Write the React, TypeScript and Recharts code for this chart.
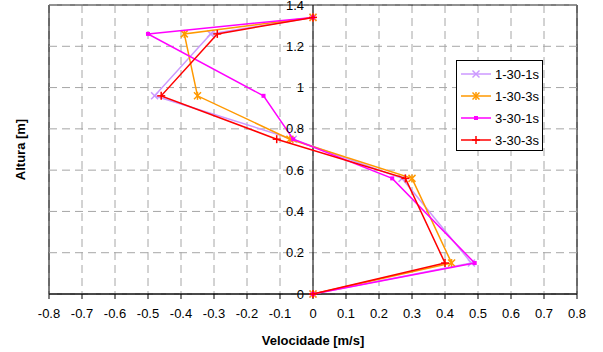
import React from 'react'
import {
  ScatterChart,
  Scatter,
  XAxis,
  YAxis,
  CartesianGrid,
  ReferenceLine,
  ReferenceArea,
  ReferenceDot,
  Legend
} from 'recharts'

// alturas [m] dos pontos medidos
const alturas = [0, 0.15, 0.56, 0.75, 0.96, 1.26, 1.34]

// velocidades [m/s] por ensaio
const vel_1_30_1s = [0, 0.48, 0.27, -0.06, -0.48, -0.31, 0]
const vel_1_30_3s = [0, 0.42, 0.3, -0.07, -0.35, -0.39, 0]
const vel_3_30_1s = [0, 0.49, 0.24, -0.06, -0.15, -0.5, 0]
const vel_3_30_3s = [0, 0.4, 0.28, -0.11, -0.46, -0.29, 0]

const xTicks = [-0.8, -0.7, -0.6, -0.5, -0.4, -0.3, -0.2, -0.1, 0, 0.1, 0.2, 0.3, 0.4, 0.5, 0.6, 0.7, 0.8]
const yTicks = [0, 0.2, 0.4, 0.6, 0.8, 1, 1.2, 1.4]

type MarkerKind = 'x' | 'star' | 'square' | 'plus'

const series: { name: string; vel: number[]; color: string; marker: MarkerKind }[] = [
  { name: '1-30-1s', vel: vel_1_30_1s, color: '#CC99FF', marker: 'x' },
  { name: '1-30-3s', vel: vel_1_30_3s, color: '#FF9900', marker: 'star' },
  { name: '3-30-1s', vel: vel_3_30_1s, color: '#FF00FF', marker: 'square' },
  { name: '3-30-3s', vel: vel_3_30_3s, color: '#FF0000', marker: 'plus' }
]

const gridColor = '#a6a6a6'
const gridDash = '8 5'

const Marker = ({ cx, cy, kind, color }: { cx: number; cy: number; kind: MarkerKind; color: string }) => {
  const s = 3.5
  if (kind === 'square') {
    return <rect x={cx - 2} y={cy - 2} width={4} height={4} fill={color} />
  }
  const parts: React.ReactNode[] = []
  if (kind === 'x' || kind === 'star') {
    parts.push(<line key="a" x1={cx - s} y1={cy - s} x2={cx + s} y2={cy + s} />)
    parts.push(<line key="b" x1={cx - s} y1={cy + s} x2={cx + s} y2={cy - s} />)
  }
  if (kind === 'star' || kind === 'plus') {
    parts.push(<line key="c" x1={cx} y1={cy - s - 0.5} x2={cx} y2={cy + s + 0.5} />)
  }
  if (kind === 'plus') {
    parts.push(<line key="d" x1={cx - s - 0.5} y1={cy} x2={cx + s + 0.5} y2={cy} />)
  }
  return (
    <g stroke={color} strokeWidth={1.5}>
      {parts}
    </g>
  )
}

const LegendBox = () => (
  <div style={{ padding: '2px 0 0 4px', fontSize: 13, color: '#000' }}>
    {series.map((s) => (
      <div key={s.name} style={{ height: 22, display: 'flex', alignItems: 'center' }}>
        <svg width={30} height={10} style={{ marginRight: 4 }}>
          <line x1={0} y1={5} x2={30} y2={5} stroke={s.color} strokeWidth={1.5} />
          <Marker cx={15} cy={5} kind={s.marker} color={s.color} />
        </svg>
        <span>{s.name}</span>
      </div>
    ))}
  </div>
)

const App = () => {
  return (
    <div style={{ position: 'absolute', left: 0, top: 0, fontFamily: '"Liberation Sans", Arial, sans-serif' }}>
      <ScatterChart width={603} height={352} margin={{ top: 5, right: 26, left: 0, bottom: 0 }}>
        <CartesianGrid stroke={gridColor} strokeDasharray={gridDash} horizontal={false} />
        <XAxis
          type="number"
          dataKey="v"
          domain={[-0.8, 0.8]}
          ticks={xTicks}
          allowDataOverflow
          height={58}
          tickSize={5}
          tickMargin={10}
          stroke="#000"
          tick={{ fill: '#000', fontSize: 13 }}
          label={{ value: 'Velocidade [m/s]', position: 'insideBottom', offset: 7, fill: '#000', fontSize: 13, fontWeight: 'bold' }}
        />
        <YAxis
          type="number"
          dataKey="h"
          domain={[0, 1.4]}
          ticks={yTicks}
          width={49}
          tick={false}
          tickLine={false}
          axisLine={false}
          label={{ value: 'Altura [m]', angle: -90, position: 'center', dx: -4, fill: '#000', fontSize: 13, fontWeight: 'bold' }}
        />
        {yTicks.map((t) => (
          <ReferenceLine key={'g' + t} y={t} stroke={gridColor} strokeDasharray={gridDash} />
        ))}
        <ReferenceArea x1={-0.8} x2={0.8} y1={0} y2={1.4} fill="none" stroke="#000" strokeWidth={1} />
        <ReferenceLine x={0} stroke="#000" strokeWidth={1} />
        {yTicks.map((t) => (
          <ReferenceDot
            key={t}
            x={0}
            y={t}
            r={0.01}
            fill="none"
            stroke="none"
            label={{ value: String(t), position: 'left', offset: 9, fill: '#000', fontSize: 13 }}
          />
        ))}
        {series.map((s) => (
          <Scatter
            key={s.name}
            name={s.name}
            data={s.vel.map((v, i) => ({ v, h: alturas[i] }))}
            fill={s.color}
            line={{ stroke: s.color, strokeWidth: 1.5 }}
            lineType="joint"
            shape={(p: any) => <Marker cx={p.cx} cy={p.cy} kind={s.marker} color={s.color} />}
            isAnimationActive={false}
          />
        ))}
        <Legend
          layout="vertical"
          align="center"
          verticalAlign="middle"
          content={<LegendBox />}
          wrapperStyle={{
            left: 456,
            top: 60,
            width: 87,
            height: 91,
            border: '1px solid #000',
            background: '#fff',
            boxSizing: 'border-box'
          }}
        />
      </ScatterChart>
    </div>
  )
}

export default App
